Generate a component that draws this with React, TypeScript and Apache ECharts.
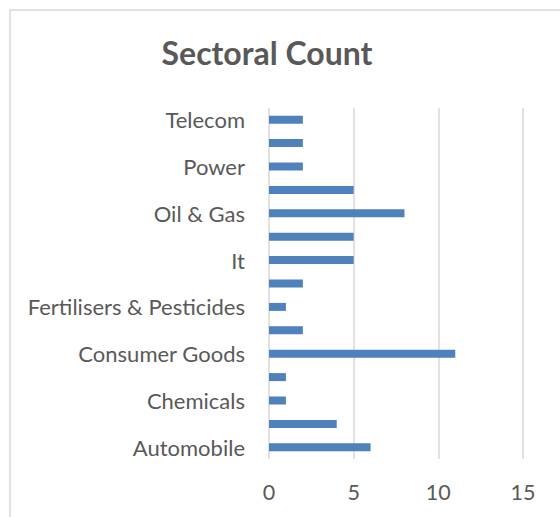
import React, { useEffect, useRef } from "react";
import * as echarts from "echarts";

const categories = [
  "Automobile",
  "Cement",
  "Chemicals",
  "Construction",
  "Consumer Goods",
  "Diversified",
  "Fertilisers & Pesticides",
  "Healthcare",
  "It",
  "Metals",
  "Oil & Gas",
  "Pharma",
  "Power",
  "Services",
  "Telecom",
];
const counts = [6, 4, 1, 1, 11, 2, 1, 2, 5, 5, 8, 5, 2, 2, 2];
const xTicks = { min: 0, max: 15, interval: 5 };
const titleText = "Sectoral Count";

export default function App() {
  const ref = useRef<HTMLDivElement>(null);
  useEffect(() => {
    if (!ref.current) return;
    const chart = echarts.init(ref.current, null, { renderer: "svg" });
    const font = "Lato, 'Open Sans', sans-serif";
    chart.setOption({
      animation: false,
      backgroundColor: "#ffffff",
      textStyle: { fontFamily: font },
      grid: { left: 269, right: 37, top: 108, bottom: 58, containLabel: false },
      xAxis: {
        type: "value",
        min: xTicks.min,
        max: xTicks.max,
        interval: xTicks.interval,
        axisLine: { show: false },
        axisTick: { show: false },
        axisLabel: { color: "#595959", fontSize: 21.5, margin: 22, fontFamily: font },
        splitLine: { show: true, lineStyle: { color: "#d9d9d9", width: 1.5 } },
      },
      yAxis: {
        type: "category",
        data: categories,
        axisLine: { show: false },
        axisTick: { show: false },
        axisLabel: { color: "#595959", fontSize: 22, margin: 24, interval: 1, fontFamily: font },
        splitLine: { show: false },
      },
      series: [
        {
          type: "bar",
          data: counts,
          barWidth: 8,
          itemStyle: { color: "#4f81bd" },
        },
      ],
      graphic: [
        {
          type: "rect",
          shape: { x: 10, y: 10, width: 700, height: 700 },
          style: { fill: "none", stroke: "#d9d9d9", lineWidth: 1.5 },
          z: -1,
        },
        {
          type: "text",
          x: 267,
          y: 52,
          style: {
            text: titleText,
            fill: "#595959",
            font: `bold 32px ${font}`,
            textAlign: "center",
            textVerticalAlign: "middle",
          },
        },
      ],
    });
    return () => chart.dispose();
  }, []);
  return (
    <div
      ref={ref}
      style={{ position: "absolute", left: 0, top: 0, width: 560, height: 517 }}
    />
  );
}
